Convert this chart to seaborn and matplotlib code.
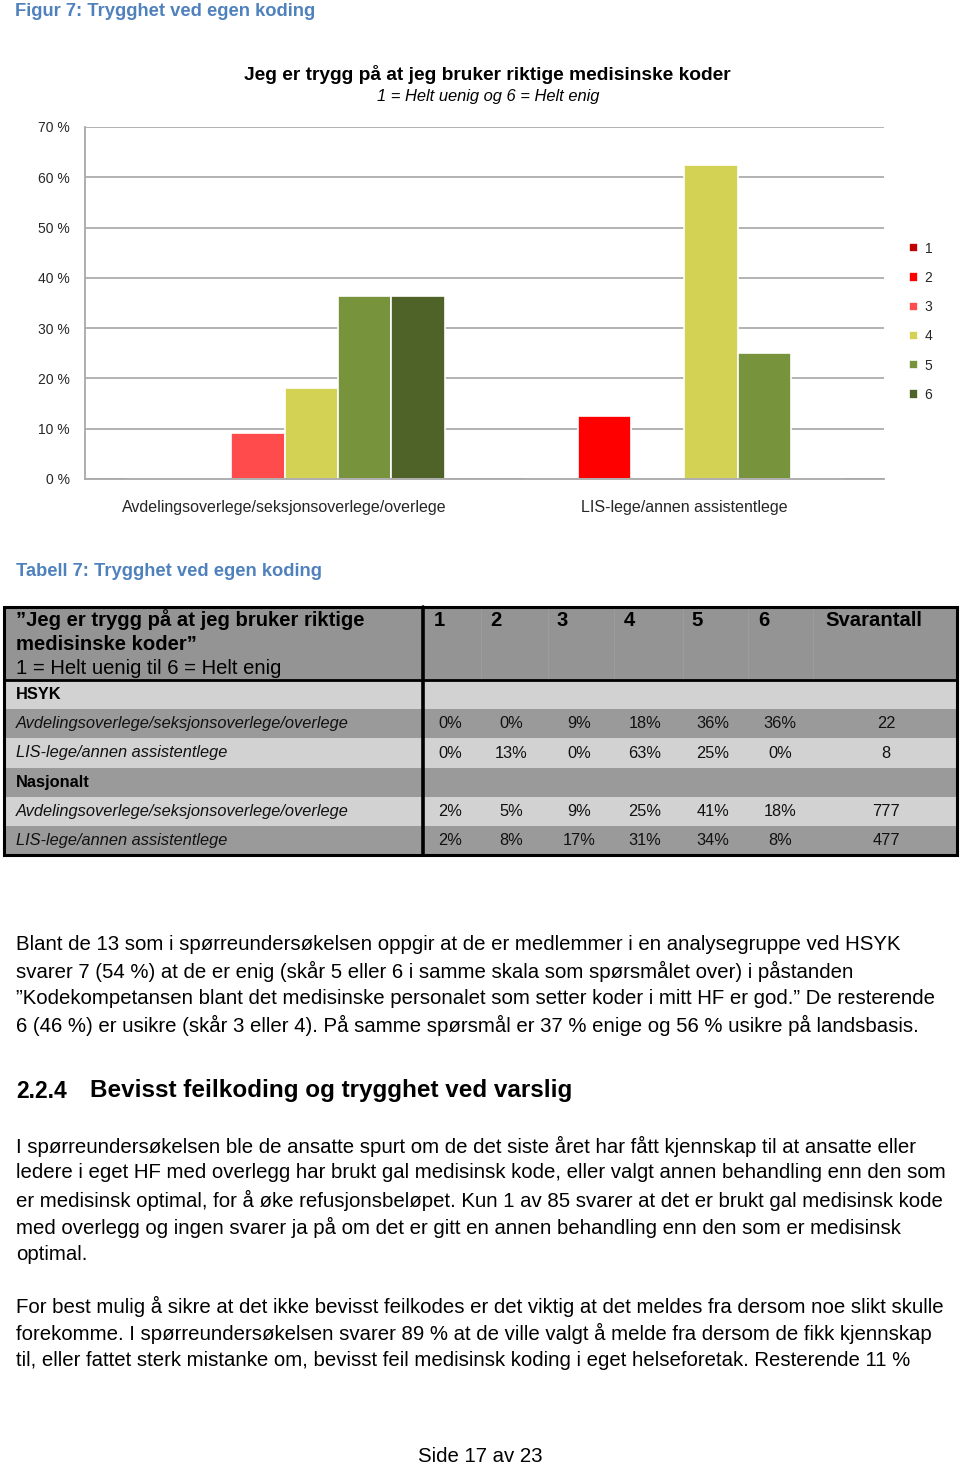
import matplotlib
matplotlib.use("Agg")
import matplotlib.pyplot as plt
import seaborn as sns
import pandas as pd
from matplotlib.patches import Rectangle

# ---------------- data ----------------
categories = ["Avdelingsoverlege/seksjonsoverlege/overlege", "LIS-lege/annen assistentlege"]
scores = ["1", "2", "3", "4", "5", "6"]
vals_overlege = [0.0, 0.0, 9.09, 18.18, 36.36, 36.36]
vals_lis = [0.0, 12.5, 0.0, 62.5, 25.0, 0.0]
score_colors = ["#C00000", "#FF0000", "#FF4B4B", "#D4D255", "#77933C", "#4F6228"]
ytick_vals = [0, 10, 20, 30, 40, 50, 60, 70]
ytick_labels = ["0 %", "10 %", "20 %", "30 %", "40 %", "50 %", "60 %", "70 %"]

table_cols = ["1", "2", "3", "4", "5", "6", "Svarantall"]
table_rows = ["HSYK",
              "Avdelingsoverlege/seksjonsoverlege/overlege",
              "LIS-lege/annen assistentlege",
              "Nasjonalt",
              "Avdelingsoverlege/seksjonsoverlege/overlege",
              "LIS-lege/annen assistentlege"]
row_is_group = [True, False, False, True, False, False]
row_values = [None,
              ["0%", "0%", "9%", "18%", "36%", "36%", "22"],
              ["0%", "13%", "0%", "63%", "25%", "0%", "8"],
              None,
              ["2%", "5%", "9%", "25%", "41%", "18%", "777"],
              ["2%", "8%", "17%", "31%", "34%", "8%", "477"]]

para1 = ["Blant de 13 som i spørreundersøkelsen oppgir at de er medlemmer i en analysegruppe ved HSYK",
         "svarer 7 (54 %) at de er enig (skår 5 eller 6 i samme skala som spørsmålet over) i påstanden",
         "”Kodekompetansen blant det medisinske personalet som setter koder i mitt HF er god.” De resterende",
         "6 (46 %) er usikre (skår 3 eller 4). På samme spørsmål er 37 % enige og 56 % usikre på landsbasis."]
para2 = ["I spørreundersøkelsen ble de ansatte spurt om de det siste året har fått kjennskap til at ansatte eller",
         "ledere i eget HF med overlegg har brukt gal medisinsk kode, eller valgt annen behandling enn den som",
         "er medisinsk optimal, for å øke refusjonsbeløpet. Kun 1 av 85 svarer at det er brukt gal medisinsk kode",
         "med overlegg og ingen svarer ja på om det er gitt en annen behandling enn den som er medisinsk",
         "optimal."]
para3 = ["For best mulig å sikre at det ikke bevisst feilkodes er det viktig at det meldes fra dersom noe slikt skulle",
         "forekomme. I spørreundersøkelsen svarer 89 % at de ville valgt å melde fra dersom de fikk kjennskap",
         "til, eller fattet sterk mistanke om, bevisst feil medisinsk koding i eget helseforetak. Resterende 11 %"]

# ---------------- style ----------------
sns.set_theme(style="white")
plt.rcParams["font.family"] = ["Liberation Sans", "DejaVu Sans"]

W, H = 960, 1466
fig = plt.figure(figsize=(W / 100, H / 100), dpi=100)
fig.patch.set_facecolor("white")

# page axes in pixel coordinates
page = fig.add_axes([0, 0, 1, 1])
page.set_xlim(0, W)
page.set_ylim(H, 0)
page.axis("off")

# ---------------- chart ----------------
ax_l, ax_r, ax_t, ax_b = 85, 884, 127, 479
ax = fig.add_axes([ax_l / W, 1 - ax_b / H, (ax_r - ax_l) / W, (ax_b - ax_t) / H])

df = pd.DataFrame({
    "group": [categories[0]] * 6 + [categories[1]] * 6,
    "score": scores * 2,
    "value": vals_overlege + vals_lis,
})
sns.barplot(data=df, x="group", y="value", hue="score", hue_order=scores,
            palette=score_colors, ax=ax, width=0.8, edgecolor="white",
            linewidth=1.2, saturation=1)
ax.set_ylim(0, 70)
ax.set_xlim(-0.5, 1.5)
ax.set_yticks(ytick_vals)
ax.set_yticklabels(ytick_labels, fontsize=10)
ax.yaxis.grid(True, color="#ACACAC", linewidth=1.3)
ax.set_axisbelow(True)
ax.set_xlabel("")
ax.set_ylabel("")
ax.tick_params(axis="y", length=0, pad=11)
ax.tick_params(axis="x", length=0, pad=15, labelsize=11.5)
for s in ["top", "right"]:
    ax.spines[s].set_visible(False)
for s in ["left", "bottom"]:
    ax.spines[s].set_color("#A8A8A8")
    ax.spines[s].set_linewidth(1.3)

handles, labels = ax.get_legend_handles_labels()
ax.get_legend().remove()
fig.legend(handles, labels, loc="upper left",
           bbox_to_anchor=(903 / W, 1 - 236 / H), frameon=False,
           fontsize=10, handlelength=0.65, handleheight=0.65,
           handletextpad=0.5, labelspacing=1.1, borderaxespad=0)

# chart titles
page.text(487, 75, "Jeg er trygg på at jeg bruker riktige medisinske koder",
          ha="center", va="center", fontsize=13.8, fontweight="bold", color="black")
page.text(488, 97, "1 = Helt uenig og 6 = Helt enig", ha="center", va="center",
          fontsize=11.9, fontstyle="italic", color="black")

# captions
cap_color = "#4F81BD"
page.text(15, 12, "Figur 7: Trygghet ved egen koding", ha="left", va="center",
          fontsize=13.25, fontweight="bold", color=cap_color)
page.text(16, 572, "Tabell 7: Trygghet ved egen koding", ha="left", va="center",
          fontsize=13.2, fontweight="bold", color=cap_color)

# ---------------- table ----------------
t_left, t_right, t_top = 4, 957, 607
div_x = 423
header_bottom = 680
row_h = 29.2
col_bounds = [423, 481, 548, 614, 683, 748, 813, 957]
col_text_left = [434, 490, 557, 624, 691, 758, 825]
val_centers = [450, 511, 579, 645, 713, 780, 886]
dark, light, header_gray = "#9A9A9A", "#D2D2D2", "#949494"

page.add_patch(Rectangle((t_left, t_top), t_right - t_left, header_bottom - t_top,
                         facecolor=header_gray, edgecolor="none"))
row_colors = [light, dark, light, dark, light, dark]
for i, rc in enumerate(row_colors):
    y0 = header_bottom + i * row_h
    page.add_patch(Rectangle((t_left, y0), t_right - t_left, row_h,
                             facecolor=rc, edgecolor="none"))
t_bottom = header_bottom + len(row_colors) * row_h

# very faint column separators in header
for xb in col_bounds[1:-1]:
    page.plot([xb, xb], [t_top, header_bottom], color="#9C9C9C", lw=0.8)

# header text
hdr_fs = 14.6
page.text(16, 620, "”Jeg er trygg på at jeg bruker riktige", ha="left", va="center",
          fontsize=hdr_fs, fontweight="bold", color="black")
page.text(16, 644, "medisinske koder”", ha="left", va="center",
          fontsize=hdr_fs, fontweight="bold", color="black")
page.text(16, 668, "1 = Helt uenig til 6 = Helt enig", ha="left", va="center",
          fontsize=hdr_fs, color="black")
for c, x in zip(table_cols, col_text_left):
    page.text(x, 620, c, ha="left", va="center", fontsize=hdr_fs,
              fontweight="bold", color="black")

# body rows
for i, (lab, grp, vals) in enumerate(zip(table_rows, row_is_group, row_values)):
    yc = header_bottom + (i + 0.5) * row_h
    if grp:
        page.text(16, yc, lab, ha="left", va="center", fontsize=11.8,
                  fontweight="bold", color="black")
    else:
        page.text(16, yc, lab, ha="left", va="center", fontsize=11.8,
                  fontstyle="italic", color="#111111")
    if vals is not None:
        for j, v in enumerate(vals):
            page.text(val_centers[j], yc, v, ha="center", va="center",
                      fontsize=11.8, color="#111111")

# borders
page.plot([t_left, t_right, t_right, t_left, t_left],
          [t_top, t_top, t_bottom, t_bottom, t_top], color="black", lw=2.2,
          solid_joinstyle="miter")
page.plot([div_x, div_x], [t_top, t_bottom], color="black", lw=2.6)
page.plot([t_left, t_right], [header_bottom, header_bottom], color="black", lw=2.0)

# ---------------- body text ----------------
body_fs = 14.65
for k, line in enumerate(para1):
    page.text(16, 944 + 27 * k, line, ha="left", va="center", fontsize=body_fs, color="black")

page.text(16, 1091, "2.2.4", ha="left", va="center", fontsize=16.5,
          fontweight="bold", color="black")
page.text(90, 1091, "Bevisst feilkoding og trygghet ved varslig", ha="left", va="center",
          fontsize=17.5, fontweight="bold", color="black")

for k, line in enumerate(para2):
    page.text(16, 1146 + 27 * k, line, ha="left", va="center", fontsize=body_fs, color="black")
for k, line in enumerate(para3):
    page.text(16, 1306 + 27 * k, line, ha="left", va="center", fontsize=body_fs, color="black")

page.text(480, 1456, "Side 17 av 23", ha="center", va="center", fontsize=14.7, color="black")

fig.savefig("out.png", dpi=100, facecolor="white")
